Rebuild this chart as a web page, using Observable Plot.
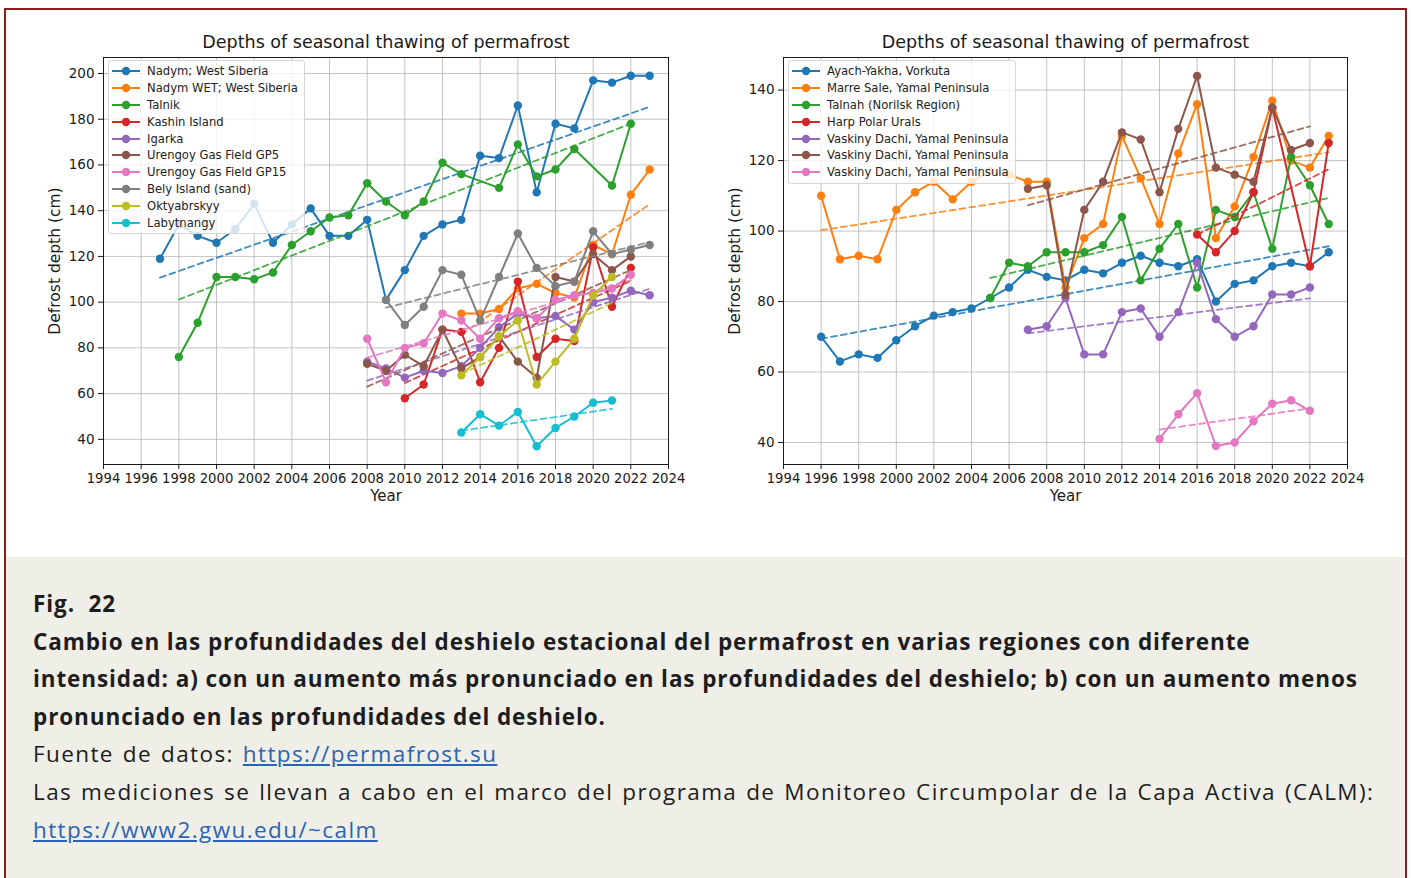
<!DOCTYPE html>
<html>
<head>
<meta charset="utf-8">
<script src="https://cdn.jsdelivr.net/npm/d3@7"></script>
<script src="https://cdn.jsdelivr.net/npm/@observablehq/plot@0.6"></script>
<style>
  html, body { margin: 0; padding: 0; background: #ffffff; }
  body { width: 1411px; height: 878px; overflow: hidden; position: relative; font-family: "DejaVu Sans", sans-serif; }
  #border { position: absolute; left: 4px; top: 8px; width: 1403px; height: 900px; border: 2px solid #8b1d1a; box-sizing: border-box; }
  #panel { position: absolute; left: 6px; top: 557px; width: 1399px; height: 330px; background: #efefe8; }
  .chart { position: absolute; top: 0; }
  .chart svg { overflow: visible; background: transparent; }
  .legend { position: absolute; background: rgba(255,255,255,0.8); border: 1px solid #d6d6d6; border-radius: 3px; padding: 2px 6px 2px 2px; font-family: "DejaVu Sans", sans-serif; font-size: 11.6px; color: #222; }
  .legend .row { height: 16.8px; display: flex; align-items: center; white-space: nowrap; }
  .legend svg { margin-right: 6px; flex: none; }
  #caption { position: absolute; left: 33px; top: 585px; width: 1375px; font-family: "Open Sans", sans-serif; color: #1d1d1d; font-size: 22.5px; line-height: 37.6px; }
  #caption .b { font-weight: 700; white-space: nowrap; letter-spacing: 0.9px; }
  #caption .n { white-space: nowrap; letter-spacing: 1.4px; word-spacing: 1.7px; }
  #caption a { color: #2b63b5; text-decoration: underline; }
</style>
</head>
<body>
<div id="border"></div>
<div id="panel"></div>
<div id="leftChart" class="chart" style="left:0px"></div>
<div id="rightChart" class="chart" style="left:705px"></div>
<div id="leftLegend" class="legend" style="left:108px; top:60px;"></div>
<div id="rightLegend" class="legend" style="left:788px; top:60px;"></div>
<div id="caption">
  <div class="b">Fig.&nbsp; 22</div>
  <div class="b">Cambio en las profundidades del deshielo estacional del permafrost en varias regiones con diferente</div>
  <div class="b">intensidad: a) con un aumento más pronunciado en las profundidades del deshielo; b) con un aumento menos</div>
  <div class="b">pronunciado en las profundidades del deshielo.</div>
  <div class="n">Fuente de datos: <a href="https://permafrost.su">https://permafrost.su</a></div>
  <div class="n">Las mediciones se llevan a cabo en el marco del programa de Monitoreo Circumpolar de la Capa Activa (CALM):</div>
  <div class="n"><a href="https://www2.gwu.edu/~calm">https://www2.gwu.edu/~calm</a></div>
</div>
<script>
// ---------- shared ----------
const chartTitle = "Depths of seasonal thawing of permafrost";
const xLabel = "Year";
const yLabel = "Defrost depth (cm)";
const xTicks = [1994, 1996, 1998, 2000, 2002, 2004, 2006, 2008, 2010, 2012, 2014, 2016, 2018, 2020, 2022, 2024];

// ---------- left chart (a) ----------
const leftYTicks = [40, 60, 80, 100, 120, 140, 160, 180, 200];

const nadymName = "Nadym; West Siberia";
const nadymYears = [1997,1998,1999,2000,2001,2002,2003,2004,2005,2006,2007,2008,2009,2010,2011,2012,2013,2014,2015,2016,2017,2018,2019,2020,2021,2022,2023];
const nadymDepth = [119,134,129,126,132,143,126,134,141,129,129,136,101,114,129,134,136,164,163,186,148,178,176,197,196,199,199];

const nadymWetName = "Nadym WET; West Siberia";
const nadymWetYears = [2013,2014,2015,2016,2017,2018,2019,2020,2021,2022,2023];
const nadymWetDepth = [95,95,97,106,108,104,102,125,121,147,158];

const talnikName = "Talnik";
const talnikYears = [1998,1999,2000,2001,2002,2003,2004,2005,2006,2007,2008,2009,2010,2011,2012,2013,2015,2016,2017,2018,2019,2021,2022];
const talnikDepth = [76,91,111,111,110,113,125,131,137,138,152,144,138,144,161,156,150,169,155,158,167,151,178];

const kashinName = "Kashin Island";
const kashinYears = [2010,2011,2012,2013,2014,2015,2016,2017,2018,2019,2020,2021,2022];
const kashinDepth = [58,64,88,87,65,80,109,76,84,83,124,98,115];

const igarkaName = "Igarka";
const igarkaYears = [2008,2009,2010,2011,2012,2013,2014,2015,2016,2017,2018,2019,2020,2021,2022,2023];
const igarkaDepth = [74,71,67,70,69,72,80,89,95,93,94,88,100,102,105,103];

const gp5Name = "Urengoy Gas Field GP5";
const gp5Years = [2008,2009,2010,2011,2012,2013,2014,2015,2016,2017,2018,2019,2020,2021,2022];
const gp5Depth = [73,70,77,72,88,71,76,85,74,67,111,109,121,114,120];

const gp15Name = "Urengoy Gas Field GP15";
const gp15Years = [2008,2009,2010,2011,2012,2013,2014,2015,2016,2017,2018,2019,2020,2021,2022];
const gp15Depth = [84,65,80,82,95,92,84,93,96,93,101,103,104,106,112];

const belyName = "Bely Island (sand)";
const belyYears = [2009,2010,2011,2012,2013,2014,2015,2016,2017,2018,2019,2020,2021,2022,2023];
const belyDepth = [101,90,98,114,112,92,111,130,115,107,109,131,121,123,125];

const oktName = "Oktyabrskyy";
const oktYears = [2013,2014,2015,2016,2017,2018,2019,2020,2021];
const oktDepth = [68,76,85,92,64,74,84,103,111];

const labName = "Labytnangy";
const labYears = [2013,2014,2015,2016,2017,2018,2019,2020,2021];
const labDepth = [43,51,46,52,37,45,50,56,57];

// ---------- right chart (b) ----------
const rightYTicks = [40, 60, 80, 100, 120, 140];

const ayachName = "Ayach-Yakha, Vorkuta";
const ayachYears = [1996,1997,1998,1999,2000,2001,2002,2003,2004,2005,2006,2007,2008,2009,2010,2011,2012,2013,2014,2015,2016,2017,2018,2019,2020,2021,2022,2023];
const ayachDepth = [70,63,65,64,69,73,76,77,78,81,84,89,87,86,89,88,91,93,91,90,92,80,85,86,90,91,90,94];

const marreName = "Marre Sale, Yamal Peninsula";
const marreYears = [1996,1997,1998,1999,2000,2001,2002,2003,2004,2005,2006,2007,2008,2009,2010,2011,2012,2013,2014,2015,2016,2017,2018,2019,2020,2021,2022,2023];
const marreDepth = [110,92,93,92,106,111,114,109,114,117,116,114,114,84,98,102,127,115,102,122,136,98,107,121,137,120,118,127];

const talnahName = "Talnah (Norilsk Region)";
const talnahYears = [2005,2006,2007,2008,2009,2010,2011,2012,2013,2014,2015,2016,2017,2018,2019,2020,2021,2022,2023];
const talnahDepth = [81,91,90,94,94,94,96,104,86,95,102,84,106,104,111,95,121,113,102];

const harpName = "Harp Polar Urals";
const harpYears = [2016,2017,2018,2019,2020,2022,2023];
const harpDepth = [99,94,100,111,135,90,125];

const vdName = "Vaskiny Dachi, Yamal Peninsula";
const vd1Years = [2007,2008,2009,2010,2011,2012,2013,2014,2015,2016,2017,2018,2019,2020,2021,2022];
const vd1Depth = [72,73,81,65,65,77,78,70,77,91,75,70,73,82,82,84];
const vd2Years = [2007,2008,2009,2010,2011,2012,2013,2014,2015,2016,2017,2018,2019,2020,2021,2022];
const vd2Depth = [112,113,82,106,114,128,126,111,129,144,118,116,114,135,123,125];
const vd3Years = [2014,2015,2016,2017,2018,2019,2020,2021,2022];
const vd3Depth = [41,48,54,39,40,46,51,52,49];

const tab10 = ["#1f77b4","#ff7f0e","#2ca02c","#d62728","#9467bd","#8c564b","#e377c2","#7f7f7f","#bcbd22","#17becf"];

const leftSeries = [
  [nadymName, nadymYears, nadymDepth],
  [nadymWetName, nadymWetYears, nadymWetDepth],
  [talnikName, talnikYears, talnikDepth],
  [kashinName, kashinYears, kashinDepth],
  [igarkaName, igarkaYears, igarkaDepth],
  [gp5Name, gp5Years, gp5Depth],
  [gp15Name, gp15Years, gp15Depth],
  [belyName, belyYears, belyDepth],
  [oktName, oktYears, oktDepth],
  [labName, labYears, labDepth]
].map((s, i) => ({name: s[0], years: s[1], values: s[2], color: tab10[i]}));

const rightSeries = [
  [ayachName, ayachYears, ayachDepth],
  [marreName, marreYears, marreDepth],
  [talnahName, talnahYears, talnahDepth],
  [harpName, harpYears, harpDepth],
  [vdName, vd1Years, vd1Depth],
  [vdName, vd2Years, vd2Depth],
  [vdName, vd3Years, vd3Depth]
].map((s, i) => ({name: s[0], years: s[1], values: s[2], color: tab10[i]}));

function makeChart(series, yTicks, yDomain, w, ml, mr) {
  const grid = {stroke: "#b0b0b0", strokeOpacity: 0.75, strokeWidth: 1};
  const marks = [
    Plot.gridX(xTicks, grid),
    Plot.gridY(yTicks, grid)
  ];
  for (const s of series) {
    const rows = s.years.map((y, i) => ({year: y, depth: s.values[i]}));
    marks.push(Plot.line(rows, {x: "year", y: "depth", stroke: s.color, strokeWidth: 2}));
    marks.push(Plot.dot(rows, {x: "year", y: "depth", fill: s.color, r: 4.2}));
    marks.push(Plot.linearRegressionY(rows, {x: "year", y: "depth", stroke: s.color, strokeWidth: 1.8, strokeDasharray: "6,4", strokeOpacity: 0.85, ci: 0}));
  }
  marks.push(
    Plot.axisX(xTicks, {tickFormat: d => String(d), tickSize: 5, tickPadding: 4, fontSize: 13.2, label: null}),
    Plot.axisY(yTicks, {tickSize: 5, tickPadding: 4, fontSize: 13.5, label: null}),
    Plot.text([yLabel], {frameAnchor: "left", textAnchor: "middle", lineAnchor: "middle", dx: -48, rotate: -90, fontSize: 15.5, fill: "#1a1a1a"}),
    Plot.text([xLabel], {frameAnchor: "bottom", lineAnchor: "middle", dy: 32, fontSize: 15, fill: "#1a1a1a"}),
    Plot.frame({stroke: "#1a1a1a", strokeWidth: 1}),
    Plot.text([chartTitle], {frameAnchor: "top", lineAnchor: "middle", dy: -15, fontSize: 17.5, fill: "#1a1a1a"})
  );
  return Plot.plot({
    width: w, height: 520,
    marginLeft: ml, marginRight: mr, marginTop: 57, marginBottom: 56,
    x: {domain: [1994, 2024], label: null},
    y: {domain: yDomain, label: null},
    style: {fontFamily: "DejaVu Sans", fontSize: "13px", color: "#1a1a1a", background: "transparent", overflow: "visible"},
    marks
  });
}

document.getElementById("leftChart").append(makeChart(leftSeries, leftYTicks, [29, 207], 705, 103, 37));
document.getElementById("rightChart").append(makeChart(rightSeries, rightYTicks, [33.75, 149.25], 706, 78, 64));

function makeLegend(el, series) {
  for (const s of series) {
    const row = document.createElement("div");
    row.className = "row";
    row.innerHTML = `<svg width="30" height="12"><line x1="1" x2="29" y1="6" y2="6" stroke="${s.color}" stroke-width="2"/><circle cx="15" cy="6" r="4.2" fill="${s.color}"/></svg><span>${s.name}</span>`;
    el.append(row);
  }
}
makeLegend(document.getElementById("leftLegend"), leftSeries);
makeLegend(document.getElementById("rightLegend"), rightSeries);
</script>
</body>
</html>
